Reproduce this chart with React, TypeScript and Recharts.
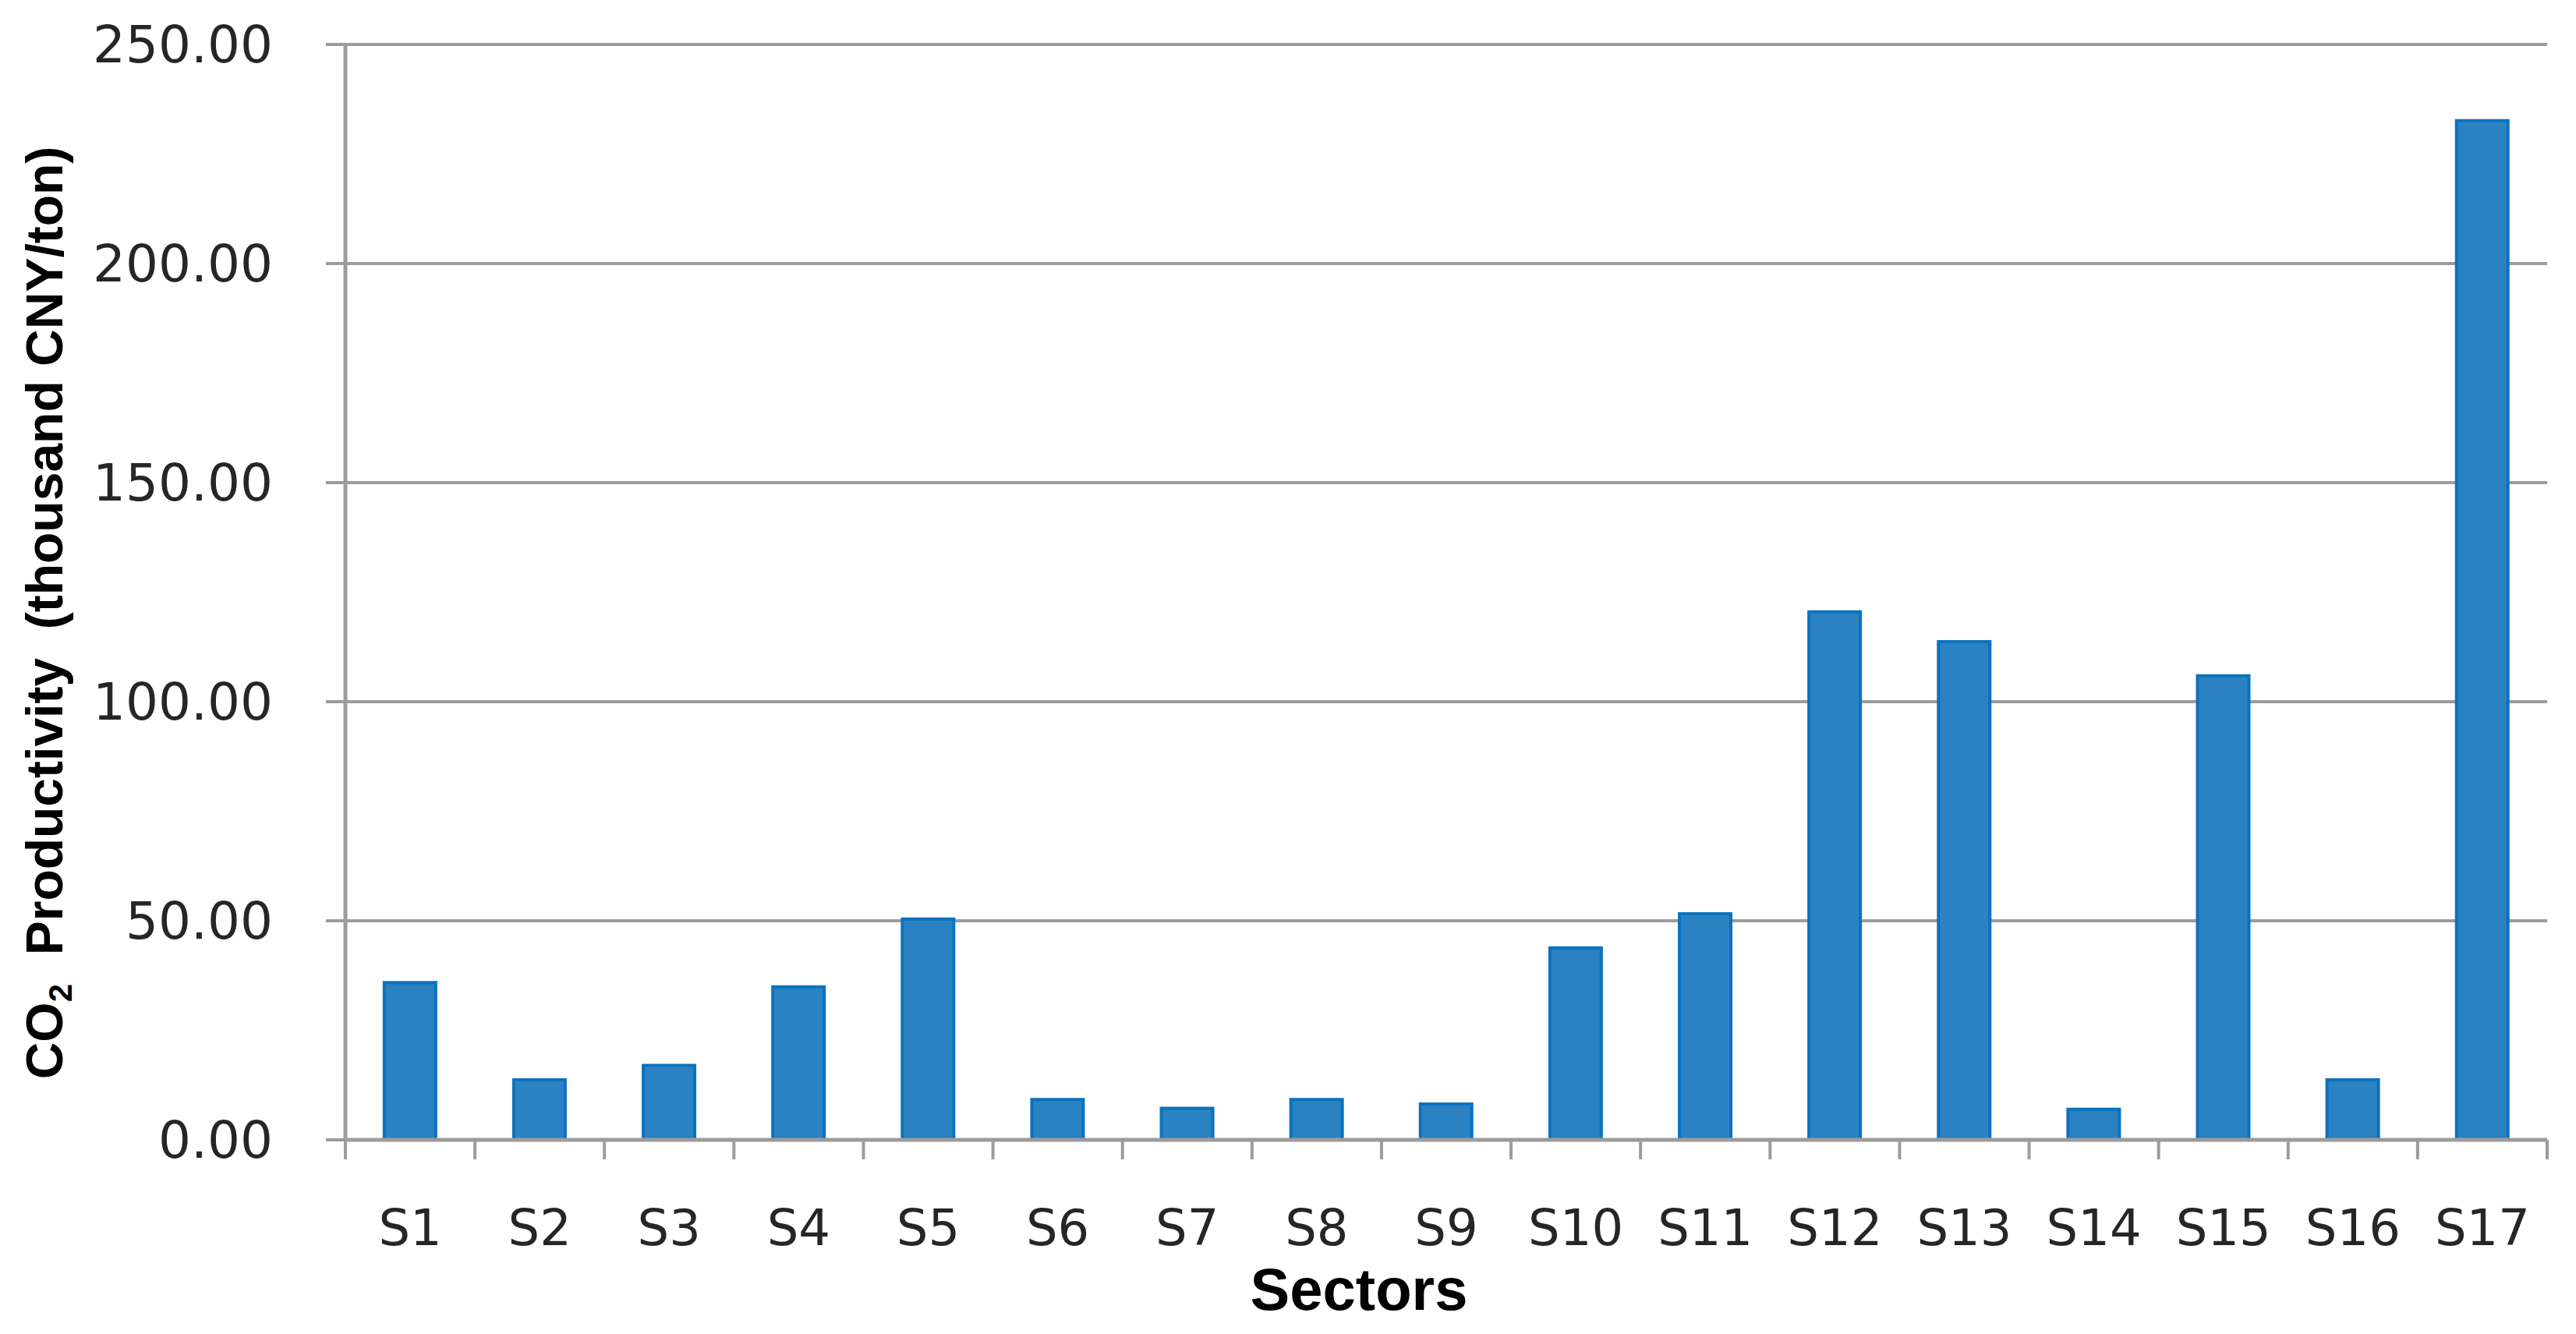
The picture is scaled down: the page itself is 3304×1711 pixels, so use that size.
import React from 'react';
import { BarChart, Bar, XAxis, YAxis, CartesianGrid } from 'recharts';

const sectors = ['S1', 'S2', 'S3', 'S4', 'S5', 'S6', 'S7', 'S8', 'S9', 'S10', 'S11', 'S12', 'S13', 'S14', 'S15', 'S16', 'S17'];
const productivity = [35.9, 13.7, 17.0, 34.9, 50.4, 9.2, 7.2, 9.2, 8.2, 43.8, 51.6, 120.5, 113.7, 7.0, 105.9, 13.7, 232.6];
const yTicks = [0, 50, 100, 150, 200, 250];

const data = sectors.map((s, i) => ({ sector: s, value: productivity[i] }));

const GREY = '#9c9c9c';

const XTick = (props: any) => {
  const { x, y, payload, width, visibleTicksCount, index } = props;
  const half =
    payload && typeof payload.offset === 'number' && payload.offset > 0
      ? payload.offset
      : width / (visibleTicksCount || sectors.length) / 2;
  const last = index === sectors.length - 1;
  return (
    <g>
      <line x1={x - half} x2={x - half} y1={y} y2={y + 25} stroke={GREY} strokeWidth={4} />
      {last && <line x1={x + half} x2={x + half} y1={y} y2={y + 25} stroke={GREY} strokeWidth={4} />}
      <text x={x} y={y + 135} textAnchor="middle" fontFamily="DejaVu Sans" fontSize={64} fill="#262626">
        {payload.value}
      </text>
    </g>
  );
};

const YTitle = () => (
  <text
    x={72}
    y={778}
    transform="rotate(-90, 72, 778)"
    textAnchor="middle"
    fontFamily="Liberation Sans"
    fontWeight="bold"
    fontSize={66}
    fill="#000"
    style={{ whiteSpace: 'pre' }}
  >
    CO<tspan dy={12} fontSize={42}>2</tspan>
    <tspan dy={-12}>{'  Productivity  (thousand CNY/ton)'}</tspan>
  </text>
);

const XTitle = () => (
  <text x={1735} y={1672} textAnchor="middle" fontFamily="Liberation Sans" fontWeight="bold" fontSize={76} fill="#000">
    Sectors
  </text>
);

export default function App() {
  return (
    <BarChart
      width={3296}
      height={1703}
      data={data}
      margin={{ top: 49, right: 37, left: 0, bottom: 0 }}
      barCategoryGap="30%"
    >
      <CartesianGrid vertical={false} stroke={GREY} strokeWidth={4} />
      <XAxis
        dataKey="sector"
        height={249}
        tickSize={0}
        tickMargin={0}
        tickLine={false}
        axisLine={{ stroke: GREY, strokeWidth: 5 }}
        interval={0}
        tick={<XTick />}
        label={{ content: () => <XTitle /> }}
      />
      <YAxis
        width={435}
        domain={[0, 250]}
        ticks={yTicks}
        tickSize={25}
        tickMargin={68}
        axisLine={{ stroke: GREY, strokeWidth: 5 }}
        tickLine={{ stroke: GREY, strokeWidth: 4 }}
        tickFormatter={(v: number) => v.toFixed(2)}
        tick={{ fontFamily: 'DejaVu Sans', fontSize: 66, fill: '#262626' }}
        label={{ content: () => <YTitle /> }}
      />
      <Bar dataKey="value" fill="#2A82C2" stroke="#0B72BE" strokeWidth={4} isAnimationActive={false} />
    </BarChart>
  );
}
